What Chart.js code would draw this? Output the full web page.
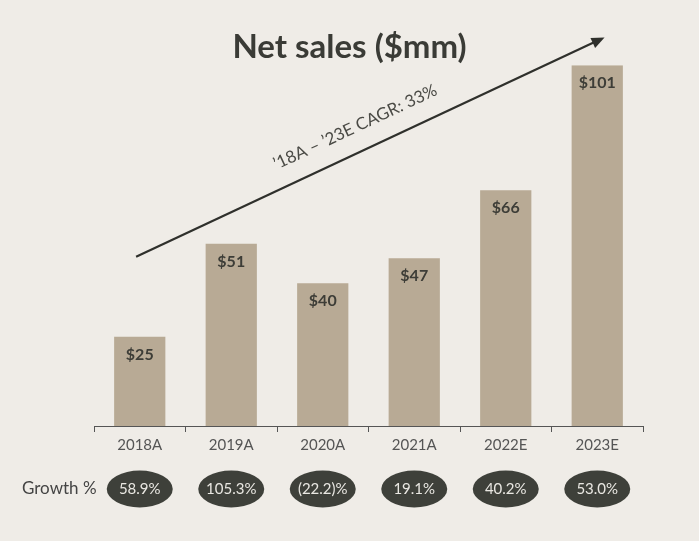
<!DOCTYPE html>
<html>
<head>
<meta charset="utf-8">
<script src="https://cdn.jsdelivr.net/npm/chart.js@4"></script>
<style>
  html, body { margin: 0; padding: 0; background: #efece7; }
  #wrap { width: 699px; height: 541px; position: relative; }
</style>
</head>
<body>
<div id="wrap"><canvas id="salesChart"></canvas></div>
<script>
// DATA
const years = ["2018A", "2019A", "2020A", "2021A", "2022E", "2023E"];
const netSales = [25, 51, 40, 47, 66, 101];
const growth = ["58.9%", "105.3%", "(22.2)%", "19.1%", "40.2%", "53.0%"];
const cagrText = "\u201918A \u2013 \u201923E CAGR: 33%";
// arrow ends in data units: [category index, value]
const arrowFrom = [-0.04, 47.4];
const arrowTo = [5.08, 108.8];

const FONT = "Lato, 'Open Sans', sans-serif";

// draws bar labels, growth ovals and the CAGR arrow
const extras = {
  id: "extras",
  afterDatasetsDraw(chart) {
    const c = chart.ctx;
    const xs = chart.scales.x, ys = chart.scales.y;
    const area = chart.chartArea;

    // value labels inside the bars
    c.save();
    c.font = "bold 16px " + FONT;
    c.fillStyle = "#3d3d37";
    c.textAlign = "center";
    c.textBaseline = "middle";
    chart.getDatasetMeta(0).data.forEach((bar, i) => {
      c.fillText("$" + netSales[i], bar.x, bar.y + 18);
    });
    c.restore();

    // growth row
    const gy = area.bottom + 63;
    c.save();
    c.font = "17px " + FONT;
    c.fillStyle = "#444";
    c.textAlign = "left";
    c.textBaseline = "middle";
    c.fillText("Growth %", 22, gy);
    growth.forEach((g, i) => {
      const cx = xs.getPixelForValue(i);
      c.beginPath();
      c.ellipse(cx, gy, 33, 18.5, 0, 0, Math.PI * 2);
      c.fillStyle = "#3e403a";
      c.fill();
      c.font = "15px " + FONT;
      c.fillStyle = "#e9e7e2";
      c.textAlign = "center";
      c.fillText(g, cx, gy);
    });
    c.restore();

    // CAGR arrow
    const x1 = xs.getPixelForValue(arrowFrom[0]), y1 = ys.getPixelForValue(arrowFrom[1]);
    const x2 = xs.getPixelForValue(arrowTo[0]), y2 = ys.getPixelForValue(arrowTo[1]);
    const ang = Math.atan2(y2 - y1, x2 - x1);
    c.save();
    c.strokeStyle = "#2f302c";
    c.fillStyle = "#2f302c";
    c.lineWidth = 2.2;
    c.beginPath();
    c.moveTo(x1, y1);
    c.lineTo(x2 - 8 * Math.cos(ang), y2 - 8 * Math.sin(ang));
    c.stroke();
    c.translate(x2, y2);
    c.rotate(ang);
    c.beginPath();
    c.moveTo(0, 0);
    c.lineTo(-13, -5.5);
    c.lineTo(-13, 5.5);
    c.closePath();
    c.fill();
    c.restore();

    // CAGR label along the arrow
    const t = 0.49;
    const mx = x1 + (x2 - x1) * t, my = y1 + (y2 - y1) * t;
    c.save();
    c.translate(mx, my);
    c.rotate(ang);
    c.font = "17px " + FONT;
    c.fillStyle = "#4a4a45";
    c.textAlign = "center";
    c.textBaseline = "bottom";
    c.fillText(cagrText, 0, -16);
    c.restore();
  }
};

const ctx = document.getElementById("salesChart").getContext("2d");
const chart = new Chart(ctx, {
  type: "bar",
  data: {
    labels: years,
    datasets: [{
      data: netSales,
      backgroundColor: "#b8aa95",
      barPercentage: 0.56,
      categoryPercentage: 1
    }]
  },
  options: {
    animation: false,
    responsive: true,
    maintainAspectRatio: false,
    layout: { padding: { left: 56, right: 56, top: 0, bottom: 83 } },
    scales: {
      x: {
        offset: true,
        grid: {
          offset: true,
          drawOnChartArea: false,
          drawTicks: true,
          tickLength: 6,
          tickColor: "#555",
          tickWidth: 1
        },
        border: { display: true, color: "#555", width: 1 },
        ticks: { color: "#555", padding: 4, font: { family: FONT, size: 15 } }
      },
      y: {
        display: true,
        min: 0,
        max: Math.max(...netSales),
        grid: { display: false },
        border: { display: false },
        ticks: { display: false },
        afterFit(scale) { scale.width = 38; }
      }
    },
    plugins: {
      legend: { display: false },
      tooltip: { enabled: false },
      title: {
        display: true,
        text: "Net sales ($mm)",
        color: "#3a3b36",
        font: { family: FONT, size: 33, weight: "bold", lineHeight: 1.1 },
        padding: { top: 29, bottom: 0 }
      }
    }
  },
  plugins: [extras]
});
</script>
</body>
</html>
